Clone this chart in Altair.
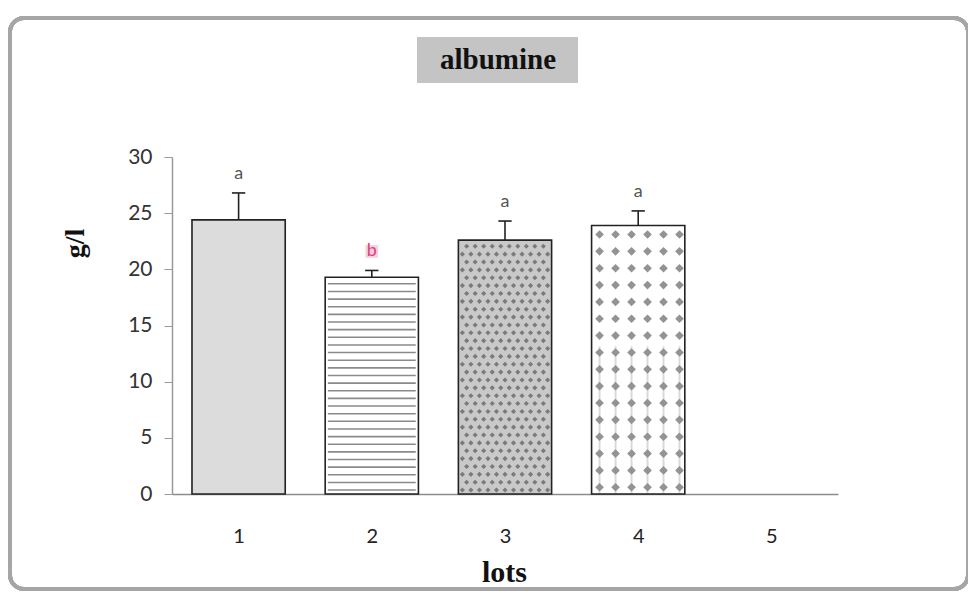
import altair as alt
import numpy as np
import pandas as pd

# ---- data ----
lots = [1, 2, 3, 4]
tick_lots = [1, 2, 3, 4, 5]
means = [24.4, 19.3, 22.6, 23.9]
err_tops = [26.8, 19.9, 24.3, 25.2]
letters = ["a", "b", "a", "a"]
letter_colors = ["#555555", "#e0407a", "#555555", "#555555"]
fills = ["#dcdcdc", "#ffffff", "#c9c9c9", "#ffffff"]

HALF = 0.35
bars = pd.DataFrame({
    "lot": lots, "mean": means, "err": err_tops, "letter": letters,
    "lcol": letter_colors, "fill": fills,
})
bars["x0"] = bars["lot"] - HALF
bars["x1"] = bars["lot"] + HALF
bars["c0"] = bars["lot"] - 0.05
bars["c1"] = bars["lot"] + 0.05

xs = alt.Scale(domain=[0.5, 5.5], nice=False, zero=False)
ys = alt.Scale(domain=[0, 30], nice=False)

# decorative fill patterns derived from the bar heights
# lot 2: horizontal stripes
m2 = means[1]
stripes = pd.DataFrame({"y": np.arange(0.35, m2, 0.68)})
stripes["x0"] = 2 - HALF + 0.02
stripes["x1"] = 2 + HALF - 0.02
# lot 3: dense staggered dots
m3 = means[2]
rows = []
for i, yy in enumerate(np.arange(0.35, m3 - 0.2, 0.7)):
    off = 0.032 if i % 2 else 0.0
    for xx in np.arange(3 - HALF + 0.03 + off, 3 + HALF - 0.02, 0.064):
        rows.append((xx, yy))
dots3 = pd.DataFrame(rows, columns=["x", "y"])
# lot 4: sparse dot grid
m4 = means[3]
rows = []
for yy in np.arange(m4 - 0.8, 0.3, -1.5):
    for xx in np.arange(4 - HALF + 0.06, 4 + HALF - 0.03, 0.12):
        rows.append((xx, yy))
dots4 = pd.DataFrame(rows, columns=["x", "y"])
vl4 = pd.DataFrame({"x": np.arange(4 - HALF + 0.06, 4 + HALF - 0.03, 0.12)})
vl4["y0"] = 0
vl4["y1"] = m4 * 0.55

base = alt.Chart(bars)

bar_fill = base.mark_rect(stroke=None).encode(
    x=alt.X("x0:Q", scale=xs,
            axis=alt.Axis(values=tick_lots, format="d", ticks=False, grid=False,
                          domainColor="#8c8c8c", domainWidth=1.5,
                          labelFont="Lato", labelFontSize=20, labelColor="#222222",
                          labelPadding=32,
                          title="lots", titleFont="Liberation Serif",
                          titleFontWeight="bold", titleFontSize=30,
                          titleColor="#111111", titleX=332, titleY=78,
                          titleBaseline="middle", titleAlign="center")),
    x2="x1:Q",
    y=alt.Y("mean:Q", scale=ys,
            axis=alt.Axis(values=[0, 5, 10, 15, 20, 25, 30], grid=False,
                          tickSize=8, tickColor="#9a9a9a", domainColor="#9a9a9a",
                          domainWidth=1.5, labelFont="Lato", labelFontSize=21,
                          labelColor="#333333", labelPadding=12,
                          title="g/l", titleFont="Liberation Serif",
                          titleFontWeight="bold", titleFontSize=28,
                          titleColor="#111111", titleX=-97, titleY=86,
                          titleAngle=270, titleBaseline="middle",
                          titleAlign="center")),
    y2=alt.datum(0),
    fill=alt.Fill("fill:N", scale=None),
)

stripe_layer = alt.Chart(stripes).mark_rule(color="#8a8a8a", strokeWidth=1.6).encode(
    x=alt.X("x0:Q", scale=xs), x2="x1:Q", y=alt.Y("y:Q", scale=ys))

dots3_layer = alt.Chart(dots3).mark_point(shape="diamond", filled=True,
                                          color="#7a7a7a", size=26, opacity=1).encode(
    x=alt.X("x:Q", scale=xs), y=alt.Y("y:Q", scale=ys))

vl4_layer = alt.Chart(vl4).mark_rule(color="#dadada", strokeWidth=2).encode(
    x=alt.X("x:Q", scale=xs), y=alt.Y("y0:Q", scale=ys), y2="y1:Q")

dots4_layer = alt.Chart(dots4).mark_point(shape="diamond", filled=True,
                                          color="#939393", size=75, opacity=1).encode(
    x=alt.X("x:Q", scale=xs), y=alt.Y("y:Q", scale=ys))

bar_outline = base.mark_rect(fill=None, stroke="#222222", strokeWidth=1.6).encode(
    x=alt.X("x0:Q", scale=xs), x2="x1:Q",
    y=alt.Y("mean:Q", scale=ys), y2=alt.datum(0))

err_line = base.mark_rule(color="#222222", strokeWidth=1.6).encode(
    x=alt.X("lot:Q", scale=xs), y=alt.Y("mean:Q", scale=ys), y2="err:Q")
err_cap = base.mark_rule(color="#222222", strokeWidth=1.6).encode(
    x=alt.X("c0:Q", scale=xs), x2="c1:Q", y=alt.Y("err:Q", scale=ys))

hl = base.transform_filter("datum.letter == 'b'").mark_square(
    color="#f6cfe0", size=160, opacity=1).encode(
    x=alt.X("lot:Q", scale=xs), y=alt.Y("err:Q", scale=ys),
    yOffset=alt.value(-19))

letter_text = base.mark_text(font="Lato", fontSize=18, dy=-19,
                             baseline="middle").encode(
    x=alt.X("lot:Q", scale=xs), y=alt.Y("err:Q", scale=ys),
    text="letter:N", color=alt.Color("lcol:N", scale=None))

# outer rounded frame and title box (decoration)
frame = alt.Chart(bars).mark_rect(fill=None, stroke="#a6a6a6", strokeWidth=4,
                                  cornerRadius=14).encode(
    x=alt.value(-162), x2=alt.value(796), y=alt.value(-139), y2=alt.value(432))
title_box = alt.Chart(bars).mark_rect(fill="#c4c4c4").encode(
    x=alt.value(245), x2=alt.value(406), y=alt.value(-120), y2=alt.value(-74))
title_text = alt.Chart(pd.DataFrame({"t": ["albumine"]})).mark_text(
    font="Liberation Serif", fontWeight="bold", fontSize=29, color="#111111",
    baseline="middle", align="center").encode(
    x=alt.value(326), y=alt.value(-97), text="t:N")

chart = alt.layer(
    frame, title_box, title_text,
    bar_fill, stripe_layer, vl4_layer, dots3_layer, dots4_layer, bar_outline,
    err_line, err_cap, hl, letter_text,
).properties(
    width=666, height=337,
    autosize=alt.AutoSizeParams(type="none"),
    padding={"left": 164, "top": 149, "right": 130, "bottom": 97},
).configure_view(stroke=None)

chart.save("out.html", embed_options={"renderer": "svg", "actions": False})
